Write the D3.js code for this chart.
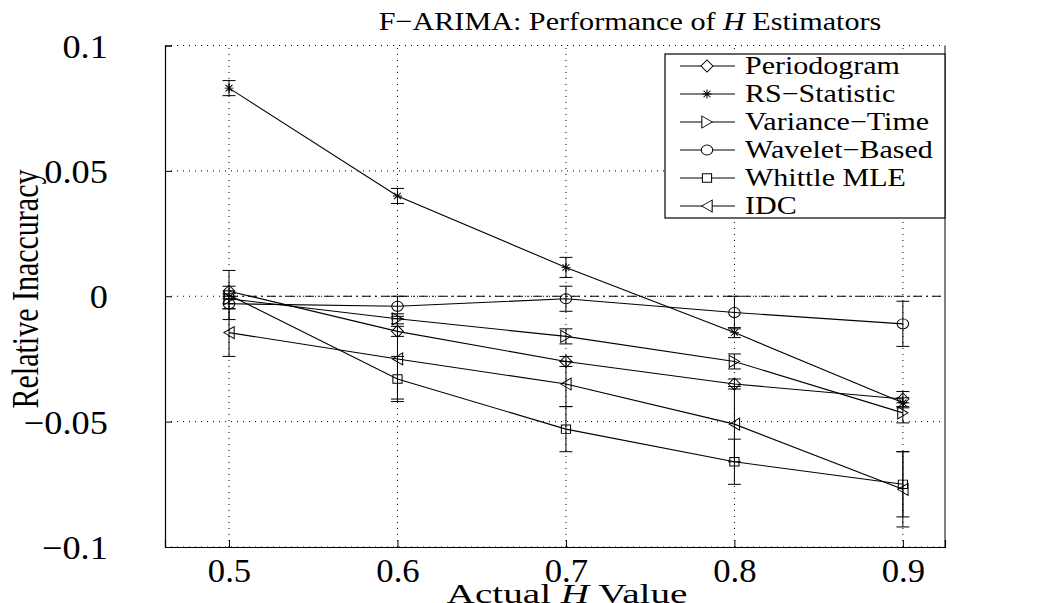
<!DOCTYPE html>
<html>
<head>
<meta charset="utf-8">
<script src="https://cdn.jsdelivr.net/npm/d3@7"></script>
<style>
  body { margin: 0; background: #fff; }
  text { font-family: "Liberation Serif", "DejaVu Serif", serif; fill: #000; }
</style>
</head>
<body>
<svg id="chart"></svg>
<script>
// H values on the x axis
let hValues = [0.5, 0.6, 0.7, 0.8, 0.9];

// relative inaccuracy of each estimator, plus half width of error bar
let periodogram = [0.002, -0.014, -0.026, -0.035, -0.041];
let periodogramErr = [0.002, 0.002, 0.002, 0.002, 0.003];
let rsStatistic = [0.083, 0.040, 0.0115, -0.0145, -0.0425];
let rsStatisticErr = [0.003, 0.003, 0.004, 0.002, 0.002];
let varianceTime = [-0.001, -0.009, -0.016, -0.026, -0.0465];
let varianceTimeErr = [0.002, 0.002, 0.003, 0.003, 0.004];
let waveletBased = [-0.003, -0.004, -0.001, -0.0065, -0.011];
let waveletBasedErr = [0.002, 0.004, 0.005, 0.0065, 0.009];
let whittleMLE = [0.0005, -0.033, -0.053, -0.066, -0.075];
let whittleMLEErr = [0.0098, 0.009, 0.009, 0.009, 0.013];
let idc = [-0.0145, -0.025, -0.035, -0.051, -0.077];
let idcErr = [0.0095, 0.016, 0.009, 0.015, 0.015];

let seriesNames = ["Periodogram", "RS\u2212Statistic", "Variance\u2212Time", "Wavelet\u2212Based", "Whittle MLE", "IDC"];
let seriesMarkers = ["diamond", "star", "right", "circle", "square", "left"];

let xTicks = [0.5, 0.6, 0.7, 0.8, 0.9];
let yTicks = [-0.1, -0.05, 0, 0.05, 0.1];
let yTickLabels = ["\u22120.1", "\u22120.05", "0", "0.05", "0.1"];

let width = 1047, height = 603;
let plotLeft = 165, plotRight = 945, plotTop = 45.5, plotBottom = 547;
let xMin = 0.462, xMax = 0.925;
let mk = 1.15; // markers a little wider than tall, as in the picture

let svg = d3.select("#chart").attr("width", width).attr("height", height);

let x = d3.scaleLinear().domain([xMin, xMax]).range([plotLeft, plotRight]);
let y = d3.scaleLinear().domain([-0.1, 0.1]).range([plotBottom, plotTop]);

// grid
let grid = svg.append("g").attr("stroke", "#000").attr("stroke-width", 1)
    .attr("stroke-dasharray", "1,5");
xTicks.forEach(function (t) {
    grid.append("line").attr("x1", x(t)).attr("x2", x(t))
        .attr("y1", y(-0.1)).attr("y2", y(0.1));
});
yTicks.forEach(function (t) {
    grid.append("line").attr("x1", x(xMin)).attr("x2", x(xMax))
        .attr("y1", y(t)).attr("y2", y(t));
});

// axes (matlab style, ticks inward)
let xAxis = svg.append("g")
    .attr("transform", "translate(0," + y(-0.1) + ")")
    .call(d3.axisBottom(x).tickValues(xTicks).tickSize(-7).tickFormat(d3.format(".1f")));
let yAxis = svg.append("g")
    .attr("transform", "translate(" + x(xMin) + ",0)")
    .call(d3.axisLeft(y).tickValues(yTicks).tickSize(-7)
        .tickFormat(function (d, i) { return yTickLabels[i]; }));
[xAxis, yAxis].forEach(function (a) {
    a.select(".domain").attr("stroke", "#000").attr("stroke-width", 1.2);
    a.selectAll(".tick line").attr("stroke", "#000");
    a.selectAll(".tick text").attr("font-size", 33)
        .attr("font-family", "Liberation Serif").attr("fill", "#000");
});
xAxis.selectAll(".tick text").attr("dy", null).attr("y", 35)
    .attr("transform", "scale(1.05,1)");
yAxis.selectAll(".tick text").attr("x", -52).attr("dy", "0.35em")
    .attr("transform", "scale(1.1,1)");

// right edge
svg.append("line").attr("x1", x(xMax)).attr("x2", x(xMax))
    .attr("y1", y(-0.1)).attr("y2", y(0.1)).attr("stroke", "#000");

// dash dot reference line at zero
svg.append("line").attr("x1", x(0.5)).attr("x2", x(xMax))
    .attr("y1", y(0)).attr("y2", y(0))
    .attr("stroke", "#000").attr("stroke-dasharray", "9,4,2,4");

function markerPath(kind) {
    if (kind === "diamond") return "M0,-6L5.2,0L0,6L-5.2,0Z";
    if (kind === "star") return "M-4,0L4,0M0,-4.5L0,4.5M-3,-3.2L3,3.2M-3,3.2L3,-3.2";
    if (kind === "right") return "M-4.5,-6L4.5,0L-4.5,6Z";
    if (kind === "left") return "M4.5,-6L-4.5,0L4.5,6Z";
    if (kind === "square") return "M-4,-4.2L4,-4.2L4,4.2L-4,4.2Z";
    return "M-5,0A5,5 0 1,0 5,0A5,5 0 1,0 -5,0Z";
}

let allValues = [periodogram, rsStatistic, varianceTime, waveletBased, whittleMLE, idc];
let allErrors = [periodogramErr, rsStatisticErr, varianceTimeErr, waveletBasedErr, whittleMLEErr, idcErr];

let line = d3.line().x(function (d) { return x(d[0]); }).y(function (d) { return y(d[1]); });

for (let s = 0; s < allValues.length; s++) {
    let pts = hValues.map(function (h, i) { return [h, allValues[s][i], allErrors[s][i]]; });
    let g = svg.append("g");
    // error bars
    pts.forEach(function (p) {
        let cx = x(p[0]);
        g.append("line").attr("x1", cx).attr("x2", cx)
            .attr("y1", y(p[1] - p[2])).attr("y2", y(p[1] + p[2])).attr("stroke", "#000");
        [p[1] - p[2], p[1] + p[2]].forEach(function (v) {
            g.append("line").attr("x1", cx - 6.5).attr("x2", cx + 6.5)
                .attr("y1", y(v)).attr("y2", y(v)).attr("stroke", "#000");
        });
    });
    g.append("path").datum(pts).attr("d", line)
        .attr("fill", "none").attr("stroke", "#000").attr("stroke-width", 1.1);
    g.selectAll(".mk").data(pts).enter().append("path")
        .attr("d", markerPath(seriesMarkers[s]))
        .attr("transform", function (p) { return "translate(" + x(p[0]) + "," + y(p[1]) + ") scale(" + mk + ",1)"; })
        .attr("fill", "none").attr("stroke", "#000").attr("stroke-width", 0.9);
}

// legend
let lg = svg.append("g");
lg.append("rect").attr("x", 665).attr("y", 54).attr("width", 280).attr("height", 164)
    .attr("fill", "#fff").attr("stroke", "#000").attr("stroke-width", 1.2);
seriesNames.forEach(function (name, i) {
    let cy = 66 + i * 28;
    lg.append("line").attr("x1", 680).attr("x2", 735).attr("y1", cy).attr("y2", cy)
        .attr("stroke", "#000");
    lg.append("path").attr("d", markerPath(seriesMarkers[i]))
        .attr("transform", "translate(707," + cy + ") scale(" + mk + ",1)")
        .attr("fill", "#fff").attr("stroke", "#000").attr("stroke-width", 0.9);
    lg.append("text").attr("transform", "translate(745," + (cy + 8) + ") scale(1.2,1)")
        .attr("font-size", 25).text(name);
});

// title and labels
let title = svg.append("text").attr("text-anchor", "middle")
    .attr("transform", "translate(630,30) scale(1.16,1)").attr("font-size", 26);
title.append("tspan").text("F\u2212ARIMA: Performance of  ");
title.append("tspan").attr("font-style", "italic").text("H");
title.append("tspan").text(" Estimators");

let xl = svg.append("text").attr("text-anchor", "middle")
    .attr("transform", "translate(567,603) scale(1.4,1)").attr("font-size", 28);
xl.append("tspan").text("Actual  ");
xl.append("tspan").attr("font-style", "italic").text("H");
xl.append("tspan").text(" Value");

svg.append("text").attr("text-anchor", "middle")
    .attr("transform", "translate(38,289) scale(1.25,1) rotate(-90)")
    .attr("font-size", 30).text("Relative Inaccuracy");
</script>
</body>
</html>
